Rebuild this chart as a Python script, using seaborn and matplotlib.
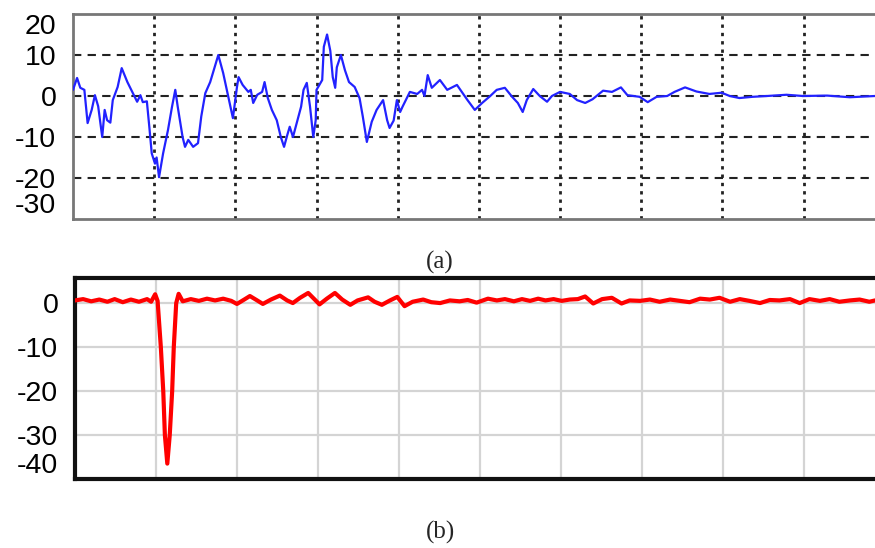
import numpy as np
import pandas as pd
import matplotlib.pyplot as plt
import seaborn as sns

# (a) blue trace
blue_x = [0.00, 0.05, 0.09, 0.14, 0.18, 0.23, 0.27, 0.31, 0.36, 0.39, 0.42, 0.46, 0.49,
          0.55, 0.60, 0.67, 0.73, 0.79, 0.83, 0.86, 0.91, 0.94, 0.97, 1.01, 1.03, 1.06,
          1.11, 1.17, 1.22, 1.26, 1.29, 1.35, 1.38, 1.42, 1.48, 1.54, 1.58, 1.63, 1.69,
          1.79, 1.85, 1.90, 1.97, 2.02, 2.04, 2.09, 2.16, 2.19, 2.22, 2.27, 2.33, 2.36,
          2.40, 2.45, 2.51, 2.56, 2.60, 2.64, 2.67, 2.71, 2.76, 2.81, 2.84, 2.88, 2.92,
          2.96, 2.99, 3.00, 3.07, 3.09, 3.13, 3.17, 3.20, 3.23, 3.25, 3.30, 3.35, 3.40,
          3.47, 3.53, 3.57, 3.62, 3.68, 3.74, 3.82, 3.87, 3.90, 3.95, 3.99, 4.03, 4.06,
          4.15, 4.24, 4.30, 4.33, 4.37, 4.42, 4.52, 4.61, 4.73, 4.79, 4.86, 4.95, 5.04,
          5.14, 5.22, 5.32, 5.41, 5.48, 5.54, 5.59, 5.67, 5.75, 5.84, 5.90, 6.00, 6.12,
          6.21, 6.31, 6.40, 6.53, 6.64, 6.75, 6.83, 6.98, 7.08, 7.19, 7.32, 7.41, 7.54,
          7.68, 7.84, 7.99, 8.09, 8.21, 8.37, 8.55, 8.79, 8.99, 9.29, 9.57, 9.88]
blue_y = [1.5, 4.4, 2.0, 1.5, -6.6, -3.4, 0.2, -2.5, -10.0, -3.4, -5.9, -6.5, -1.0,
          2.2, 6.8, 3.4, 1.0, -1.4, 0.2, -1.5, -1.3, -7.5, -14.0, -16.5, -15.0, -19.8,
          -14.0, -8.3, -2.6, 1.5, -2.6, -10.0, -12.4, -10.7, -12.4, -11.5, -5.0, 0.7, 3.4,
          10.0, 5.6, 1.0, -5.4, 2.2, 4.6, 2.7, 1.0, 1.5, -1.7, 0.3, 1.0, 3.4,
          -0.5, -3.4, -5.9, -10.0, -12.4, -9.5, -7.5, -10.0, -6.3, -2.6, 1.5, 3.2, -2.6,
          -10.0, -5.9, 1.5, 3.9, 12.0, 15.0, 11.0, 4.6, 2.0, 7.0, 10.0, 6.3, 3.4,
          2.2, -0.5, -5.0, -11.2, -6.3, -3.4, -1.0, -5.9, -7.8, -6.0, -1.0, -3.9, -2.6,
          1.0, 0.5, 1.5, 0.0, 5.1, 2.0, 3.9, 1.5, 2.7, 1.0, -1.0, -3.4, -1.7,
          0.0, 1.5, 2.0, -0.2, -1.7, -3.9, -1.0, 1.7, 0.0, -1.4, 0.0, 1.0, 0.5,
          -1.0, -1.7, -0.8, 1.3, 1.0, 2.1, 0.2, -0.2, -1.5, -0.2, 0.0, 1.0, 2.1,
          1.1, 0.5, 0.8, 0.0, -0.5, -0.2, 0.0, 0.3, 0.0, 0.1, -0.3, 0.0]

# (b) red trace
red_x = [0.00, 0.10, 0.20, 0.30, 0.40, 0.49, 0.59, 0.69, 0.79, 0.89, 0.94, 0.99, 1.02,
         1.06, 1.09, 1.11, 1.14, 1.17, 1.20, 1.22, 1.25, 1.28, 1.33, 1.43, 1.53, 1.63,
         1.73, 1.83, 1.93, 2.00, 2.09, 2.16, 2.25, 2.32, 2.42, 2.53, 2.62, 2.69, 2.78,
         2.88, 2.95, 3.02, 3.11, 3.21, 3.30, 3.40, 3.49, 3.62, 3.70, 3.79, 3.89, 3.98,
         4.07, 4.17, 4.30, 4.40, 4.51, 4.63, 4.75, 4.85, 4.96, 5.10, 5.21, 5.31, 5.42,
         5.52, 5.62, 5.72, 5.81, 5.91, 6.01, 6.11, 6.21, 6.30, 6.40, 6.51, 6.63, 6.75,
         6.85, 6.98, 7.10, 7.22, 7.35, 7.47, 7.59, 7.72, 7.84, 7.96, 8.09, 8.21, 8.33,
         8.46, 8.58, 8.70, 8.83, 8.95, 9.07, 9.20, 9.32, 9.44, 9.57, 9.69, 9.81, 9.88]
red_y = [0.6, 0.9, 0.4, 0.8, 0.3, 0.9, 0.2, 0.8, 0.3, 0.9, 0.3, 2.0, 0.5,
         -10.0, -20.0, -30.0, -36.5, -30.0, -20.0, -10.0, 0.0, 2.1, 0.4, 0.9, 0.5, 1.0,
         0.6, 1.0, 0.5, -0.2, 0.8, 1.6, 0.6, -0.2, 0.8, 1.7, 0.6, 0.0, 1.2,
         2.3, 1.0, -0.3, 1.0, 2.3, 0.8, -0.4, 0.6, 1.3, 0.3, -0.4, 0.6, 1.4,
         -0.7, 0.3, 0.8, 0.2, 0.0, 0.6, 0.4, 0.7, 0.1, 1.0, 0.6, 0.9, 0.4,
         0.9, 0.5, 1.0, 0.6, 0.9, 0.5, 0.8, 0.9, 1.5, -0.1, 0.9, 1.2, -0.1,
         0.6, 0.5, 0.8, 0.3, 0.8, 0.5, 0.2, 1.0, 0.8, 1.2, 0.3, 0.9, 0.5,
         0.0, 0.7, 0.6, 0.9, 0.0, 0.9, 0.5, 0.9, 0.3, 0.6, 0.8, 0.3, 0.6]

top_yticks = [-30, -20, -10, 0, 10, 20]
bottom_yticks = [-40, -30, -20, -10, 0]
xgrid = [1, 2, 3, 4, 5, 6, 7, 8, 9]

sns.set_style("white")
plt.rcParams['font.family'] = ['Liberation Sans', 'DejaVu Sans']
plt.rcParams['axes.unicode_minus'] = False

W, H = 875, 548
fig = plt.figure(figsize=(W / 100, H / 100), dpi=100)

# top panel
ax1 = fig.add_axes([73 / W, 1 - 219 / H, 802 / W, 205 / H])
df_a = pd.DataFrame({'x': blue_x, 'y': blue_y})
for v in xgrid:
    ax1.axvline(v, color='#222222', lw=2, ls=(0, (1.2, 1.8)), zorder=1)
for v in [-20, -10, 0, 10]:
    ax1.axhline(v, color='#222222', lw=1.5, ls=(0, (4, 3)), zorder=1)
sns.lineplot(data=df_a, x='x', y='y', ax=ax1, color='#2222ff', lw=1.6,
             estimator=None, sort=False, zorder=3)
ax1.set_xlim(0, 9.88)
ax1.set_ylim(-30, 20)
ax1.set_yticks(top_yticks)
ax1.set_yticklabels([str(t) for t in top_yticks])
ax1.set_xticks([])
ax1.set_xlabel('')
ax1.set_ylabel('')
ax1.tick_params(axis='y', length=0, pad=12, labelsize=20.5, labelcolor='black')
labs = ax1.get_yticklabels()
labs[0].set_va('bottom')
labs[-1].set_va('top')
for s in ['top', 'left', 'bottom']:
    ax1.spines[s].set_color('#777777')
    ax1.spines[s].set_linewidth(2)
ax1.spines['right'].set_visible(False)

# bottom panel
ax2 = fig.add_axes([75 / W, 1 - 479 / H, 800 / W, 201 / H])
df_b = pd.DataFrame({'x': red_x, 'y': red_y})
for v in xgrid:
    ax2.axvline(v, color='#d4d4d4', lw=1.6, zorder=1)
for v in [-30, -20, -10, 0]:
    ax2.axhline(v, color='#d4d4d4', lw=1.6, zorder=1)
sns.lineplot(data=df_b, x='x', y='y', ax=ax2, color='#ff0000', lw=3,
             estimator=None, sort=False, zorder=3)
ax2.set_xlim(0, 9.88)
ax2.set_ylim(-40, 5.7)
ax2.set_yticks(bottom_yticks)
ax2.set_yticklabels([str(t) for t in bottom_yticks])
ax2.set_xticks([])
ax2.set_xlabel('')
ax2.set_ylabel('')
ax2.tick_params(axis='y', length=0, pad=12, labelsize=20.5, labelcolor='black')
ax2.get_yticklabels()[0].set_va('bottom')
for s in ['top', 'left', 'bottom']:
    ax2.spines[s].set_color('#111111')
    ax2.spines[s].set_linewidth(3)
ax2.spines['right'].set_visible(False)

fig.text(440 / W, 1 - 262 / H, '(a)', ha='center', va='center',
         family='Liberation Serif', fontsize=18)
fig.text(440 / W, 1 - 532 / H, '(b)', ha='center', va='center',
         family='Liberation Serif', fontsize=18)

fig.savefig('out.png', dpi=100)
